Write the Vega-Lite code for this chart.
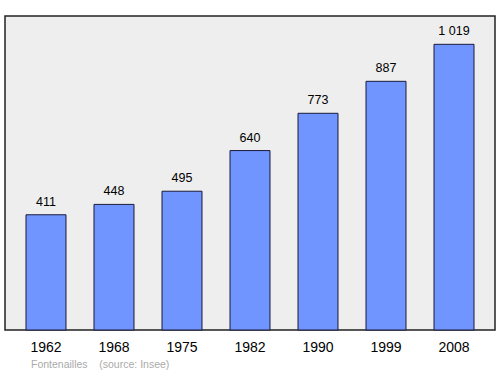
{
  "$schema": "https://vega.github.io/schema/vega-lite/v6.json",
  "width": 490,
  "height": 314,
  "autosize": "none",
  "padding": {"left": 5, "top": 16, "right": 5, "bottom": 44},
  "background": "white",
  "data": {"values": [
    {"year": "1962", "pop": 411, "label": "411"},
    {"year": "1968", "pop": 448, "label": "448"},
    {"year": "1975", "pop": 495, "label": "495"},
    {"year": "1982", "pop": 640, "label": "640"},
    {"year": "1990", "pop": 773, "label": "773"},
    {"year": "1999", "pop": 887, "label": "887"},
    {"year": "2008", "pop": 1019, "label": "1 019"}
  ]},
  "title": {
    "text": "Fontenailles\u00a0\u00a0\u00a0\u00a0(source: Insee)",
    "orient": "bottom",
    "anchor": "start",
    "dx": 26,
    "offset": 6,
    "font": "Liberation Sans",
    "fontSize": 10.5,
    "fontWeight": "normal",
    "color": "#aaaaaa"
  },
  "encoding": {
    "x": {
      "field": "year", "type": "nominal", "sort": null,
      "scale": {"paddingInner": 0.4118, "paddingOuter": 0.3088},
      "axis": {"title": null, "ticks": false, "domain": false, "labelAngle": 0,
               "labelFont": "Liberation Sans", "labelFontSize": 14, "labelColor": "#000000",
               "labelPadding": 10, "grid": false}
    },
    "y": {
      "field": "pop", "type": "quantitative",
      "scale": {"domain": [0, 1120], "nice": false, "zero": true},
      "axis": null
    }
  },
  "layer": [
    {"mark": {"type": "bar", "fill": "#7095ff", "stroke": "#1a1a3a", "strokeWidth": 1}},
    {"mark": {"type": "text", "baseline": "alphabetic", "dy": -9, "font": "Liberation Sans", "fontSize": 12.5, "color": "#000000"},
     "encoding": {"text": {"field": "label"}}}
  ],
  "config": {
    "view": {"fill": "#eeeeee", "stroke": "#222222", "strokeWidth": 1.5}
  }
}
